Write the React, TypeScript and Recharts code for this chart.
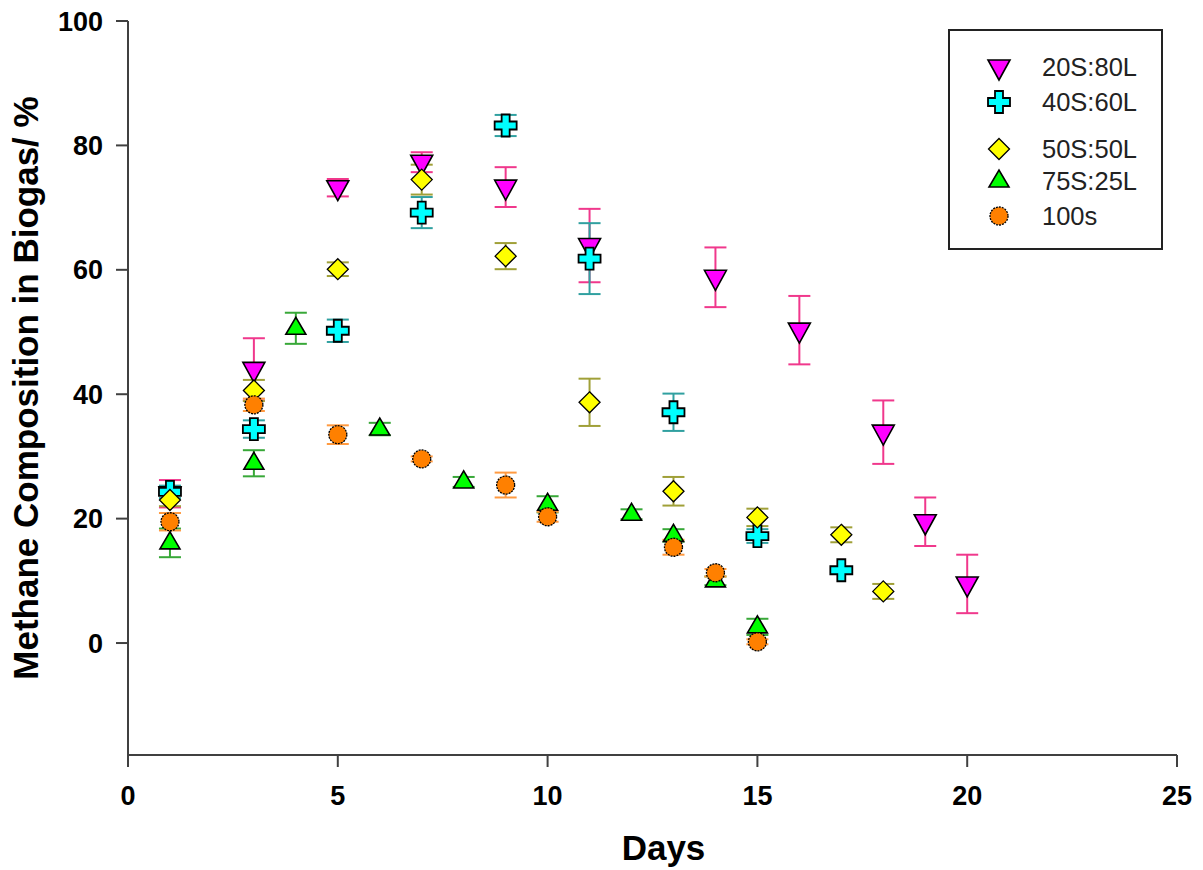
import React from 'react';
import { ScatterChart, Scatter, XAxis, YAxis, ErrorBar, Legend, Label } from 'recharts';

// ---- Data ----
const days20S = [1, 3, 5, 7, 9, 11, 14, 16, 18, 19, 20];
const vals20S = [24, 44, 73.2, 77.3, 73.3, 63.9, 58.8, 50.3, 33.9, 19.5, 9.5];
const errs20S = [2.2, 5, 1.4, 1.6, 3.2, 5.9, 4.8, 5.5, 5.1, 3.9, 4.7];

const days40S = [1, 3, 5, 7, 9, 11, 13, 15, 17];
const vals40S = [24.3, 34.4, 50.2, 69.2, 83.2, 61.8, 37.1, 17.2, 11.7];
const errs40S = [1, 1.4, 1.8, 2.5, 1.7, 5.7, 3, 1.1, 0];

const days50S = [1, 3, 5, 7, 9, 11, 13, 15, 17, 18];
const vals50S = [23, 40.6, 60.1, 74.5, 62.2, 38.7, 24.4, 20.2, 17.4, 8.3];
const errs50S = [1, 1.7, 1.1, 2.4, 2.1, 3.8, 2.3, 1.4, 1.2, 1.2];

const days75S = [1, 3, 4, 6, 8, 10, 12, 13, 14, 15];
const vals75S = [16.1, 28.9, 50.6, 34.4, 25.9, 22.3, 20.7, 17.3, 10, 2.6];
const errs75S = [2.3, 2.1, 2.5, 1, 0.8, 1.3, 0.8, 1, 0.7, 1.3];

const days100 = [1, 3, 5, 7, 9, 10, 13, 14, 15];
const vals100 = [19.5, 38.3, 33.5, 29.6, 25.4, 20.3, 15.4, 11.3, 0.2];
const errs100 = [1.4, 1, 1.5, 0.4, 2, 0.8, 1.2, 0.6, 0.4];

const xTicks = [0, 5, 10, 15, 20, 25];
const yTicks = [0, 20, 40, 60, 80, 100];

const build = (d: number[], v: number[], e: number[]) =>
  d.map((x, i) => ({ x, y: v[i], err: e[i] }));

const FONT = '"Liberation Sans", Arial, sans-serif';

// ---- Marker shapes ----
const downTri = (cx: number, cy: number, fill: string) => (
  <path d={`M${cx - 11},${cy - 7} L${cx + 11},${cy - 7} L${cx},${cy + 13} Z`} fill={fill} stroke="#000" strokeWidth={1.6} strokeLinejoin="miter" />
);
const upTri = (cx: number, cy: number, fill: string) => (
  <path d={`M${cx - 10},${cy + 6} L${cx + 10},${cy + 6} L${cx},${cy - 11} Z`} fill={fill} stroke="#000" strokeWidth={1.6} />
);
const cross = (cx: number, cy: number, fill: string) => {
  const a = 11, t = 4;
  const d = `M${cx - t},${cy - a} L${cx + t},${cy - a} L${cx + t},${cy - t} L${cx + a},${cy - t} L${cx + a},${cy + t} L${cx + t},${cy + t} L${cx + t},${cy + a} L${cx - t},${cy + a} L${cx - t},${cy + t} L${cx - a},${cy + t} L${cx - a},${cy - t} L${cx - t},${cy - t} Z`;
  return <path d={d} fill={fill} stroke="#000" strokeWidth={1.8} />;
};
const diamond = (cx: number, cy: number, fill: string) => (
  <path d={`M${cx},${cy - 10.5} L${cx + 10.5},${cy} L${cx},${cy + 10.5} L${cx - 10.5},${cy} Z`} fill={fill} stroke="#000" strokeWidth={1.3} />
);
const circle = (cx: number, cy: number, fill: string) => (
  <circle cx={cx} cy={cy} r={9} fill={fill} stroke="#000" strokeWidth={1.3} strokeDasharray="2 1" />
);

type SeriesDef = {
  name: string;
  data: { x: number; y: number; err: number }[];
  fill: string;
  errColor: string;
  marker: (cx: number, cy: number, fill: string) => React.ReactElement;
};

const series: SeriesDef[] = [
  { name: '20S:80L', data: build(days20S, vals20S, errs20S), fill: '#ff00ff', errColor: '#f0388c', marker: downTri },
  { name: '40S:60L', data: build(days40S, vals40S, errs40S), fill: '#00ffff', errColor: '#30a0a0', marker: cross },
  { name: '50S:50L', data: build(days50S, vals50S, errs50S), fill: '#ffff00', errColor: '#a0a038', marker: diamond },
  { name: '75S:25L', data: build(days75S, vals75S, errs75S), fill: '#00ff00', errColor: '#38a838', marker: upTri },
  { name: '100s', data: build(days100, vals100, errs100), fill: '#ff8000', errColor: '#ff9a40', marker: circle },
];

const legendRows = [38, 73, 120, 152, 187];

const renderLegend = () => (
  <svg width={215} height={221} style={{ display: 'block' }}>
    <rect x={1} y={1} width={213} height={219} fill="#fff" stroke="#222" strokeWidth={2} />
    {series.map((s, i) => (
      <g key={s.name}>
        {s.marker(51, legendRows[i], s.fill)}
        <text x={94} y={legendRows[i]} dy="0.36em" fontFamily={FONT} fontSize={25.5} fill="#222">
          {s.name}
        </text>
      </g>
    ))}
  </svg>
);

const tickStyle = { fill: '#000', fontSize: 27, fontWeight: 'bold', fontFamily: FONT } as const;

export default function App() {
  return (
    <div style={{ position: 'absolute', left: 0, top: 0, width: 1203, height: 870, background: '#fff' }}>
      <ScatterChart width={1203} height={870} margin={{ top: 21, right: 26, bottom: 0, left: 0 }}>
        <XAxis
          type="number"
          dataKey="x"
          domain={[0, 25]}
          ticks={xTicks}
          allowDataOverflow
          height={115}
          tickSize={12}
          tickMargin={19}
          tick={tickStyle}
          axisLine={{ stroke: '#404040', strokeWidth: 2 }}
          tickLine={{ stroke: '#404040', strokeWidth: 2 }}
        >
          <Label value="Days" position="insideBottom" offset={10} dx={11} style={{ fontSize: 35, fontWeight: 'bold', fontFamily: FONT, fill: '#000' }} />
        </XAxis>
        <YAxis
          type="number"
          dataKey="y"
          domain={[-18, 100]}
          ticks={yTicks}
          allowDataOverflow
          width={128}
          tickSize={12}
          tickMargin={13}
          tick={tickStyle}
          axisLine={{ stroke: '#404040', strokeWidth: 2 }}
          tickLine={{ stroke: '#404040', strokeWidth: 2 }}
        >
          <Label
            value="Methane Composition in Biogas/ %"
            position="insideLeft"
            angle={-90}
            offset={26}
            style={{ fontSize: 35, fontWeight: 'bold', fontFamily: FONT, fill: '#000', textAnchor: 'middle' }}
          />
        </YAxis>
        <Legend
          layout="vertical"
          align="center"
          verticalAlign="middle"
          content={renderLegend}
          wrapperStyle={{ position: 'absolute', left: 948, top: 29, width: 215, height: 221 }}
        />
        {series.map((s) => (
          <Scatter
            key={s.name}
            name={s.name}
            data={s.data}
            isAnimationActive={false}
            shape={(props: any) => s.marker(props.cx, props.cy, s.fill)}
          >
            <ErrorBar dataKey="err" direction="y" width={11} stroke={s.errColor} strokeWidth={2} />
          </Scatter>
        ))}
      </ScatterChart>
    </div>
  );
}
